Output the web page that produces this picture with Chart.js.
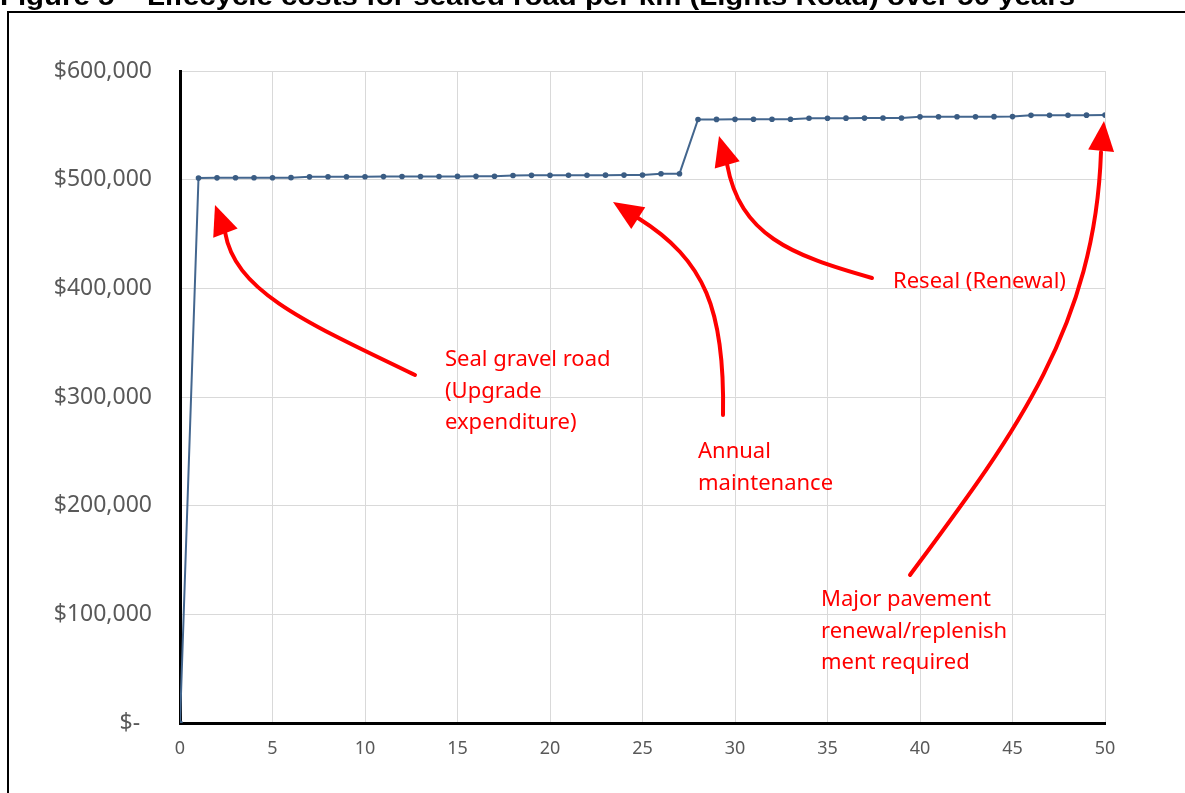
<!DOCTYPE html>
<html>
<head>
<meta charset="utf-8">
<script src="https://cdn.jsdelivr.net/npm/chart.js@4/dist/chart.umd.min.js"></script>
<style>
  html, body { margin: 0; padding: 0; background: #ffffff; }
  #wrap { width: 1185px; height: 793px; position: relative; }
</style>
</head>
<body>
<div id="wrap"><canvas id="c" width="1185" height="793"></canvas></div>
<script>
// Years since sealing
const years = [0, 1, 2, 3, 4, 5, 6, 7, 8, 9, 10, 11, 12, 13, 14, 15, 16, 17, 18, 19, 20,
  21, 22, 23, 24, 25, 26, 27, 28, 29, 30, 31, 32, 33, 34, 35, 36, 37, 38, 39, 40,
  41, 42, 43, 44, 45, 46, 47, 48, 49, 50];

// Cumulative lifecycle cost per km ($)
const cumulativeCost = [0,
  501600, 501650, 501700, 501750, 501800, 501850,
  502600, 502650, 502700, 502750, 502800, 502850, 502900, 502950, 503000, 503050, 503100,
  503900, 503950, 504000, 504050, 504100, 504150, 504200, 504250,
  505400, 505500,
  555400, 555450, 555500, 555550, 555600, 555650,
  556500, 556550, 556600, 556650, 556700, 556750,
  557800, 557850, 557900, 557950, 558000, 558050,
  559200, 559250, 559300, 559350, 559400];

const yTicks = [0, 100000, 200000, 300000, 400000, 500000, 600000];
const xTicks = [0, 5, 10, 15, 20, 25, 30, 35, 40, 45, 50];

const titleText = 'Figure 5 \u2013 Lifecycle costs for sealed road per km (Lights Road) over 50 years';

// Callout labels, each with its arrow (tail, two control points, head base, tip)
const callouts = [
  { lines: ['Seal gravel road', '(Upgrade', 'expenditure)'], x: 445, y: 360,
    arrow: [[415, 375], [300, 320], [235, 290], [225, 232], [215, 205]] },
  { lines: ['Annual', 'maintenance'], x: 698, y: 452,
    arrow: [[723, 415], [725, 310], [705, 260], [638, 218], [613, 202]] },
  { lines: ['Reseal (Renewal)'], x: 893, y: 282,
    arrow: [[872, 278], [790, 255], [740, 235], [727, 164], [719, 136]] },
  { lines: ['Major pavement', 'renewal/replenish', 'ment required'], x: 821, y: 600,
    arrow: [[910, 575], [1010, 440], [1095, 330], [1101, 152], [1104, 121]] }
];

function fmtMoney(v) {
  if (v === 0) return '$-  ';
  return '$' + v.toLocaleString('en-US');
}

const framePlugin = {
  id: 'frame',
  beforeDraw(chart) {
    const ctx = chart.ctx;
    ctx.save();
    ctx.fillStyle = '#ffffff';
    ctx.fillRect(0, 0, chart.width, chart.height);
    // heading, partially above the page edge
    ctx.fillStyle = '#000000';
    ctx.font = 'bold 26px "Liberation Sans", Arial, sans-serif';
    ctx.textBaseline = 'alphabetic';
    ctx.textAlign = 'left';
    const w = ctx.measureText(titleText).width;
    ctx.translate(0, 5);
    ctx.scale(1075 / w, 1);
    ctx.fillText(titleText, 0, 0);
    ctx.restore();
    // figure box
    ctx.save();
    ctx.strokeStyle = '#000000';
    ctx.lineWidth = 2;
    ctx.strokeRect(8, 12, chart.width + 20, chart.height + 20);
    ctx.restore();
  },
  afterDraw(chart) {
    const ctx = chart.ctx;
    ctx.save();
    ctx.fillStyle = '#ff0000';
    ctx.strokeStyle = '#ff0000';
    ctx.font = '22px "Noto Sans", "Open Sans", sans-serif';
    ctx.textBaseline = 'middle';
    ctx.textAlign = 'left';
    callouts.forEach(c => {
      c.lines.forEach((t, i) => ctx.fillText(t, c.x, c.y + i * 31.5));
      const [p0, p1, p2, p3, tip] = c.arrow;
      ctx.lineWidth = 4;
      ctx.lineCap = 'round';
      ctx.beginPath();
      ctx.moveTo(p0[0], p0[1]);
      ctx.bezierCurveTo(p1[0], p1[1], p2[0], p2[1], p3[0], p3[1]);
      ctx.stroke();
      // arrow head
      const dx = tip[0] - p3[0], dy = tip[1] - p3[1];
      const len = Math.hypot(dx, dy);
      const ux = dx / len, uy = dy / len;
      const headLen = 30, half = 13;
      const bx = tip[0] - ux * headLen, by = tip[1] - uy * headLen;
      ctx.beginPath();
      ctx.moveTo(tip[0], tip[1]);
      ctx.lineTo(bx - uy * half, by + ux * half);
      ctx.lineTo(bx + uy * half, by - ux * half);
      ctx.closePath();
      ctx.fill();
    });
    ctx.restore();
  }
};

const points = years.map((yr, i) => ({ x: yr, y: cumulativeCost[i] }));

new Chart(document.getElementById('c'), {
  type: 'line',
  data: {
    datasets: [{
      data: points,
      borderColor: '#43668e',
      backgroundColor: '#3a5c83',
      borderWidth: 2,
      pointRadius: 2.8,
      pointHoverRadius: 2.8,
      pointBorderWidth: 0,
      pointBackgroundColor: '#3a5c83',
      tension: 0
    }]
  },
  options: {
    responsive: false,
    animation: false,
    events: [],
    layout: { padding: { top: 71, right: 80, left: 0, bottom: 0 } },
    plugins: { legend: { display: false }, tooltip: { enabled: false }, title: { display: false } },
    scales: {
      x: {
        type: 'linear',
        min: 0, max: 50,
        afterBuildTicks(scale) { scale.ticks = xTicks.map(v => ({ value: v })); },
        afterFit(scale) { scale.height = 70; },
        grid: { color: '#d9d9d9', lineWidth: 1, drawTicks: false },
        border: { display: true, color: '#000000', width: 3 },
        ticks: {
          color: '#595959',
          padding: 15,
          font: { family: '"Noto Sans", "Open Sans", sans-serif', size: 18 },
          callback: v => String(v)
        }
      },
      y: {
        type: 'linear',
        min: 0, max: 600000,
        afterBuildTicks(scale) { scale.ticks = yTicks.map(v => ({ value: v })); },
        afterFit(scale) { scale.width = 180; },
        grid: { color: '#d9d9d9', lineWidth: 1, drawTicks: false },
        border: { display: true, color: '#000000', width: 3 },
        ticks: {
          color: '#595959',
          padding: 28,
          font: { family: '"Noto Sans", "Open Sans", sans-serif', size: 23 },
          callback: v => fmtMoney(v)
        }
      }
    }
  },
  plugins: [framePlugin]
});
</script>
</body>
</html>
